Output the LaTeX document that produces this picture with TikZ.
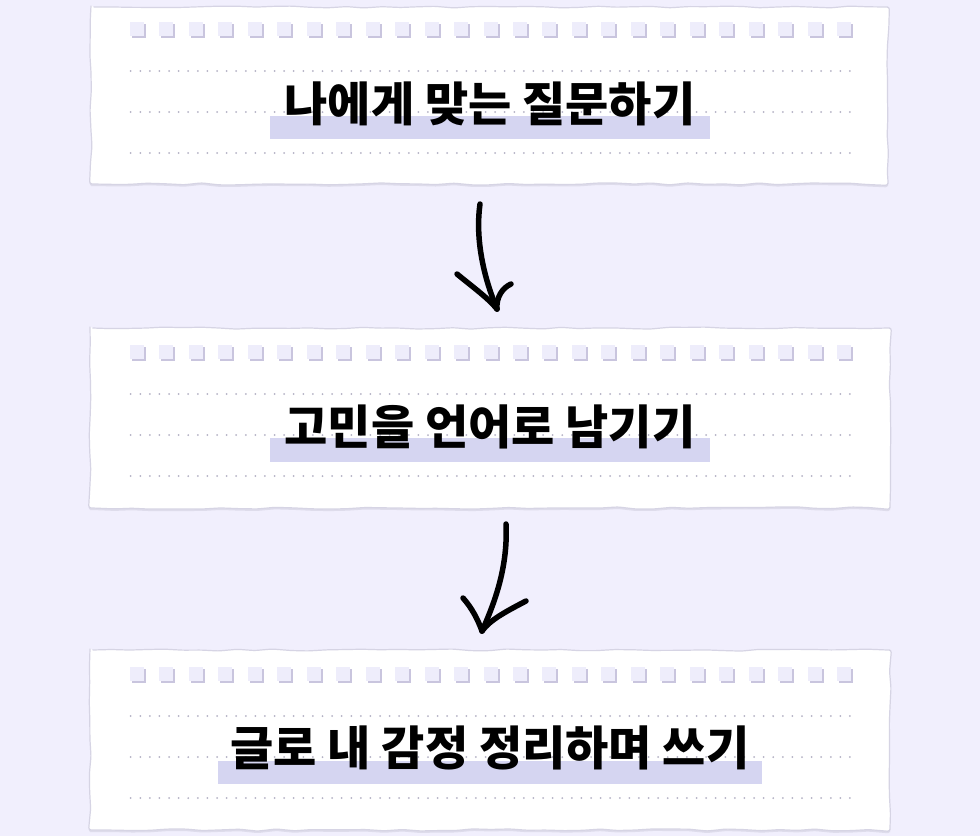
\documentclass[tikz,border=0pt]{standalone}
\usepackage{fontspec}
\newfontfamily\kr{Noto Sans CJK KR}[BoldFont={* Black}]
\usetikzlibrary{decorations.pathmorphing}
\definecolor{bgc}{HTML}{F1EFFD}
\definecolor{sqface}{HTML}{EEEDFB}
\definecolor{sqshadow}{HTML}{C9C5DE}
\definecolor{dotc}{HTML}{B3B1C4}
\definecolor{hl}{HTML}{D5D5F1}
\definecolor{edgec}{HTML}{D6D4E4}
\tikzset{
  paper/.style={fill=white, draw=edgec, line width=1.2pt, rounded corners=2.5pt,
    decorate, decoration={random steps, segment length=18pt, amplitude=1.1pt}},
  papershadow/.style={fill=edgec, opacity=0.7, rounded corners=2.5pt,
    decorate, decoration={random steps, segment length=18pt, amplitude=1.1pt}},
  hlbox/.style={fill=hl},
  label/.style={font=\kr\bfseries\fontsize{47}{50}\selectfont, text=black, inner sep=0pt, anchor=center},
  handarrow/.style={line width=5.5pt, line cap=round, line join=round, black},
  cardarea/.style={inner sep=0pt, minimum width=798pt, minimum height=178pt, draw=none}
}
\newcommand{\cardrows}[1]{%
  \foreach \i in {0,...,24}{
    \fill[sqshadow] ({130+\i*29.46+2},{#1+22+2}) rectangle ({130+\i*29.46+16},{#1+22+16});
    \fill[sqface] ({130+\i*29.46},{#1+22}) rectangle ({130+\i*29.46+14},{#1+22+14});
  }
  \foreach \r in {71,112,153}{
    \foreach \j in {0,...,75}{
      \fill[dotc] ({130.7+\j*9.59},{#1+\r}) circle (1pt);
    }
  }
}
\begin{document}
\begin{tikzpicture}[x=1pt,y=-1pt]
\fill[bgc] (0,0) rectangle (980,836);
\useasboundingbox (0,0) rectangle (980,836);
% card areas
\node[cardarea] (c1) at (490,95.5) {};
\node[cardarea] (c2) at (490,418) {};
\node[cardarea] (c3) at (490,740) {};
% card 1
\pgfmathsetseed{11}
\fill[papershadow] (91,9) -- (888,9) -- (888,186) -- (91,186) -- cycle;
\pgfmathsetseed{11}
\path[paper] (91,7) -- (888,7) -- (888,184) -- (91,184) -- cycle;
\cardrows{0}
\fill[hlbox] (270,116) rectangle (710,139);
\node[label] (t1) at (490,104) {나에게 맞는 질문하기};
% card 2
\pgfmathsetseed{23}
\fill[papershadow] (90,330) -- (890,330) -- (890,510) -- (90,510) -- cycle;
\pgfmathsetseed{23}
\path[paper] (90,328) -- (890,328) -- (890,508) -- (90,508) -- cycle;
\cardrows{323}
\fill[hlbox] (270,438) rectangle (710,462);
\node[label] (t2) at (490,427) {고민을 언어로 남기기};
% card 3
\pgfmathsetseed{37}
\fill[papershadow] (90,652) -- (890,652) -- (890,832) -- (90,832) -- cycle;
\pgfmathsetseed{37}
\path[paper] (90,650) -- (890,650) -- (890,830) -- (90,830) -- cycle;
\cardrows{645}
\fill[hlbox] (218,761) rectangle (762,784);
\node[label] (t3) at (490,748) {글로 내 감정 정리하며 쓰기};
% arrows
\coordinate (a1s) at (480,204);
\coordinate (a1e) at (497,309);
\coordinate (a1l) at (457,274);
\coordinate (a1r) at (511,284);
\draw[handarrow] (a1s) .. controls (475,240) and (484,278) .. (a1e);
\draw[handarrow] (a1l) .. controls (474,288) and (488,298) .. (a1e);
\draw[handarrow] (a1r) .. controls (502,288) and (496,298) .. (a1e);
\coordinate (a2s) at (506,524);
\coordinate (a2e) at (482,631);
\coordinate (a2l) at (463,598);
\coordinate (a2r) at (526,601);
\draw[handarrow] (a2s) .. controls (508,565) and (496,600) .. (a2e);
\draw[handarrow] (a2l) .. controls (472,608) and (478,620) .. (a2e);
\draw[handarrow] (a2r) .. controls (505,612) and (490,620) .. (a2e);
\end{tikzpicture}
\end{document}
